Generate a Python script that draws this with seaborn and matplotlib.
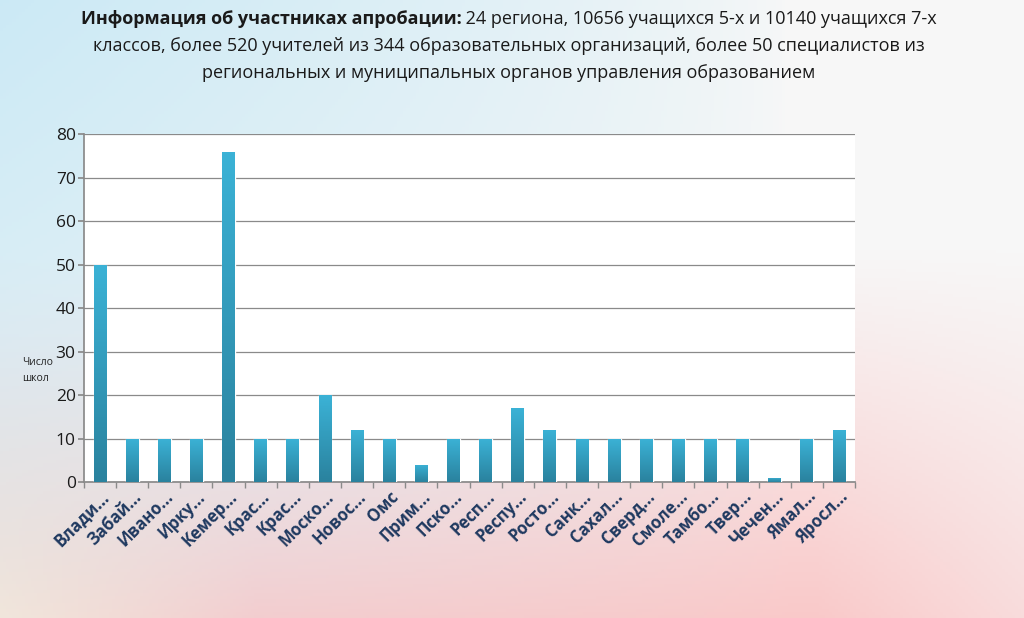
import numpy as np
import pandas as pd
import matplotlib
matplotlib.use("Agg")
import matplotlib.pyplot as plt
import seaborn as sns
from matplotlib.colors import LinearSegmentedColormap

regions = ["Влади...", "Забай...", "Ивано...", "Ирку...", "Кемер...", "Крас...", "Крас...",
           "Моско...", "Новос...", "Омс", "Прим...", "Пско...", "Респ...", "Респу...",
           "Росто...", "Санк...", "Сахал...", "Сверд...", "Смоле...", "Тамбо...", "Твер...",
           "Чечен...", "Ямал...", "Яросл..."]
schools = [50, 10, 10, 10, 76, 10, 10, 20, 12, 10, 4, 10, 10, 17, 12, 10, 10, 10, 10, 10, 10, 1, 10, 12]
yticks = [0, 10, 20, 30, 40, 50, 60, 70, 80]

sns.set_theme(style="white")
plt.rcParams["font.family"] = ["Open Sans", "DejaVu Sans"]

fig = plt.figure(figsize=(10.24, 6.18), dpi=100)

# background gradient
bg = fig.add_axes([0, 0, 1, 1], zorder=-10)
h, w = 200, 330
yy, xx = np.mgrid[0:1:h*1j, 0:1:w*1j]
blue = np.array([0.78, 0.91, 0.96])
white = np.array([0.97, 0.97, 0.97])
pink = np.array([0.98, 0.79, 0.79])
peach = np.array([0.98, 0.90, 0.84])
t_pink = np.clip((yy - 0.4) / 0.6, 0, 1)[..., None] * (1 - 0.4 * np.clip((xx - 0.8) / 0.2, 0, 1))[..., None]
t_peach = (np.clip((yy - 0.55) / 0.45, 0, 1) * np.clip(1 - xx * 4, 0, 1))[..., None]
t_blue = np.clip((1 - xx * 1.3) * (1 - yy * 0.9), 0, 1)[..., None] ** 0.7
img = white * (1 - t_pink) + pink * t_pink
img = img * (1 - t_peach) + peach * t_peach
img = img * (1 - 0.9 * t_blue) + blue * 0.9 * t_blue
bg.imshow(img, aspect="auto", extent=[0, 1, 0, 1], origin="upper")
bg.axis("off")

ax = fig.add_axes([0.082, 0.22, 0.753, 0.563])
df = pd.DataFrame({"region": range(len(regions)), "schools": schools})
sns.barplot(data=df, x="region", y="schools", ax=ax, color="#2E98B8", width=0.4,
            saturation=1, zorder=3)
ax.set_facecolor("white")
ax.set_ylim(0, 80)
ax.set_yticks(yticks)
ax.set_yticklabels([str(v) for v in yticks], fontsize=12.5, color="#1a1a1a")
ax.yaxis.grid(True, color="#8a8a8a", linewidth=0.9, zorder=0)
ax.set_axisbelow(True)
ax.set_xticks(range(len(regions)))
ax.set_xticklabels(regions, rotation=45, ha="right", rotation_mode="anchor",
                   fontsize=12, fontweight="bold", color="#1F3960")
ax.set_xlabel("")
ax.set_ylabel("")
for s in ["top", "right"]:
    ax.spines[s].set_visible(False)
for s in ["left", "bottom"]:
    ax.spines[s].set_color("#8a8a8a")
ax.tick_params(axis="y", length=4, color="#8a8a8a", left=True, pad=2)
ax.tick_params(axis="x", length=0, pad=4)
ax.set_xticks(np.arange(-0.5, len(regions), 1), minor=True)
ax.tick_params(axis="x", which="minor", length=4, color="#8a8a8a", bottom=True)

# gradient fill of bars (each bar its own top-to-bottom gradient)
cmap = LinearSegmentedColormap.from_list("g", ["#2A829E", "#3BB2D6"])
grad = np.linspace(0, 1, 100).reshape(-1, 1)
for p in list(ax.patches):
    x0 = p.get_x()
    bw, bh = p.get_width(), p.get_height()
    if bh <= 0:
        continue
    im = ax.imshow(grad, cmap=cmap, aspect="auto", origin="lower",
                   extent=[x0, x0 + bw, 0, bh], zorder=4)
    im.set_clip_path(p)
ax.set_xlim(-0.5, len(regions) - 0.5)
ax.set_ylim(0, 80)

fig.text(0.022, 0.40, "Число\nшкол", fontsize=7.5, color="#222222", ha="left", va="center",
         linespacing=1.6)

# title
fig.canvas.draw()
r = fig.canvas.get_renderer()
fs = 13
t1 = fig.text(0, 0, "Информация об участниках апробации:", fontsize=fs, fontweight="bold",
              color="#1a1a1a", va="baseline")
t2 = fig.text(0, 0, " 24 региона, 10656 учащихся 5-х и 10140 учащихся 7-х", fontsize=fs,
              color="#1a1a1a", va="baseline")
w1 = t1.get_window_extent(r).width
w2 = t2.get_window_extent(r).width
W = fig.bbox.width
xstart = (W * 0.497 - (w1 + w2) / 2)
yb = 1 - 24 / 618
t1.set_position((xstart / W, yb))
t2.set_position(((xstart + w1) / W, yb))
fig.text(0.497, 1 - 51 / 618,
         "классов, более 520 учителей из 344 образовательных организаций, более 50 специалистов из",
         fontsize=fs, color="#1a1a1a", ha="center", va="baseline")
fig.text(0.497, 1 - 78 / 618,
         "региональных и муниципальных органов управления образованием",
         fontsize=fs, color="#1a1a1a", ha="center", va="baseline")

fig.savefig("out.png", dpi=100)
